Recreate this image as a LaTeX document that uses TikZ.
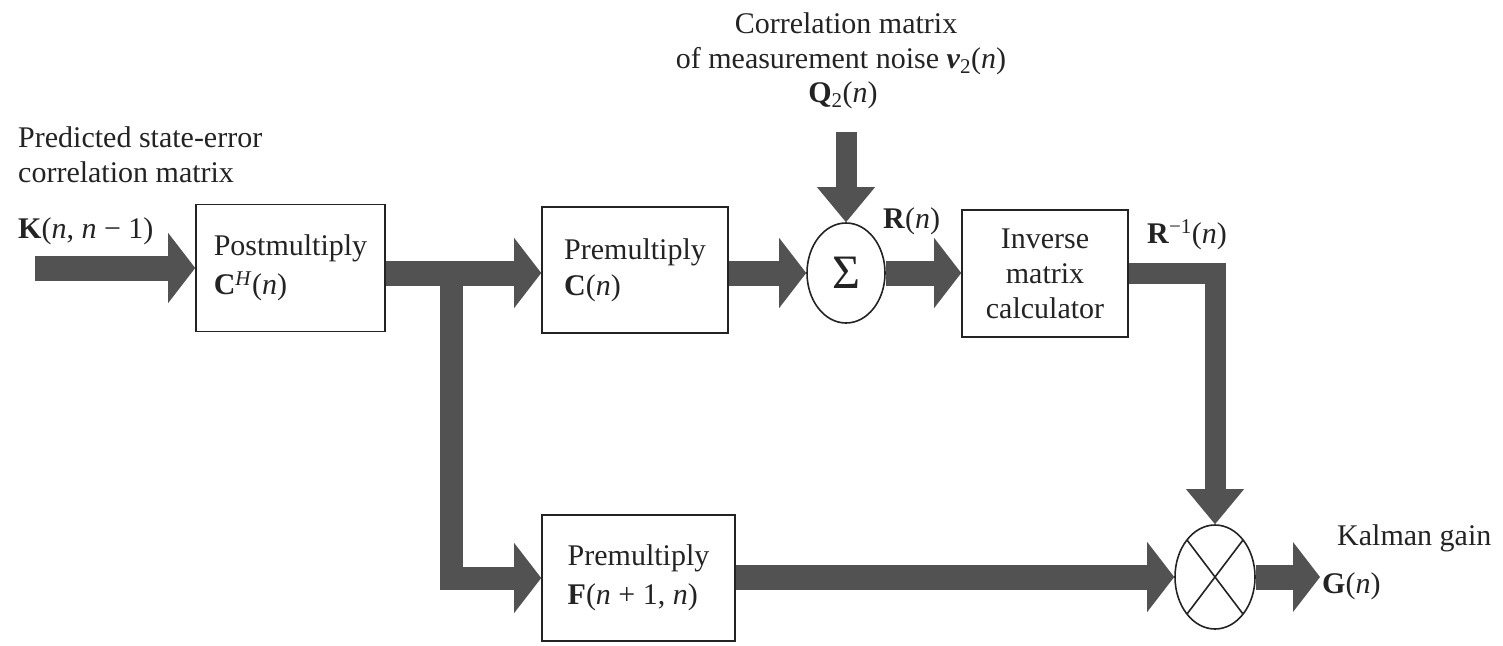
\documentclass[tikz,border=0pt]{standalone}
\usepackage{fontspec}
\setmainfont{Liberation Serif}
\usetikzlibrary{arrows.meta,shapes.geometric,calc}
\definecolor{arr}{RGB}{82,82,82}
\definecolor{ink}{RGB}{35,35,35}
\begin{document}
\begin{tikzpicture}[x=1pt,y=-1pt,
  every node/.style={font=\fontsize{30}{36}\selectfont, text=ink},
  box/.style={draw=ink, line width=1.6pt, rectangle, inner sep=0pt, align=left},
  sj/.style={draw=ink, line width=1.6pt, ellipse, inner sep=0pt},
  fat/.style={draw=arr, line width=25pt, -{Triangle[length=27pt,width=70pt,line width=0pt]}},
  fatb/.style={draw=arr, line width=23pt, line join=miter, -{Triangle[length=27pt,width=70pt,line width=0pt]}},
  fatv/.style={draw=arr, line width=21pt, line join=miter, -{Triangle[length=35pt,width=58pt,line width=0pt]}},
  lbl/.style={inner sep=0pt, anchor=base west},
  lblc/.style={inner sep=0pt, anchor=base}]
\useasboundingbox (0,0) rectangle (1503,645);

% blocks
\node[box, minimum width=189pt, minimum height=127pt] (b1) at (290.5,268)
  {Postmultiply\\[3pt]\textbf{C}\textsuperscript{\textit{H}}(\textit{n})};
\node[box, minimum width=186pt, minimum height=126pt] (b2) at (635,270)
  {Premultiply\\\textbf{C}(\textit{n})};
\node[sj, minimum width=78pt, minimum height=100pt] (sum) at (846,273)
  {\fontsize{48}{48}\selectfont Σ};
\node[box, align=center, minimum width=166pt, minimum height=127pt] (b4) at (1045,273.5)
  {Inverse\\[-1pt]matrix\\[-1pt]calculator};
\node[box, minimum width=193pt, minimum height=126pt] (b3) at (638.5,578)
  {Premultiply\\[3pt]\textbf{F}(\textit{n} + 1, \textit{n})};
\node[sj, minimum width=80pt, minimum height=104pt] (mul) at (1215,577) {};
\draw[draw=ink, line width=1.6pt] (mul.center) ++(-28,-37) -- ++(56,74);
\draw[draw=ink, line width=1.6pt] (mul.center) ++(28,-37) -- ++(-56,74);

% free ends
\coordinate (in) at (35,268);
\coordinate (q) at (846,132);
\coordinate (br) at (451,273);
\coordinate (out) at (1320,577);

% connectors
\draw[fatb] (br) |- (b3.west);
\draw[fat] (in) -- (b1.west);
\draw[fat] (b1.east |- sum) -- (b2.west |- sum);
\draw[fat] (b2.east |- sum) -- (sum.west);
\draw[fatv] (q) -- (sum.north);
\draw[fat] (sum.east) -- (b4.west |- sum);
\draw[fatv] (b4.east |- sum) -| (mul.north);
\draw[fat] (b3.east |- mul) -- (mul.west);
\draw[fat] (mul.east) -- (out);

% labels
\node[lbl] (l1) at (18,147) {Predicted state-error};
\node[lbl] (l2) at (18,182) {correlation matrix};
\node[lbl] (lk) at (18,238) {\textbf{K}(\textit{n}, \textit{n} − 1)};
\node[lblc] (t1) at (846,33) {Correlation matrix};
\node[lblc] (t2) at (841,68) {of measurement noise \textbf{\textit{ν}}\textsubscript{2}(\textit{n})};
\node[lblc] (t3) at (843,102) {\textbf{Q}\textsubscript{2}(\textit{n})};
\node[lbl] (lr) at (883,228) {\textbf{R}(\textit{n})};
\node[lbl] (lri) at (1147,243) {\textbf{R}\textsuperscript{−1}(\textit{n})};
\node[lbl] (lkg) at (1337,545) {Kalman gain};
\node[lbl] (lg) at (1322,593) {\textbf{G}(\textit{n})};
\end{tikzpicture}
\end{document}
